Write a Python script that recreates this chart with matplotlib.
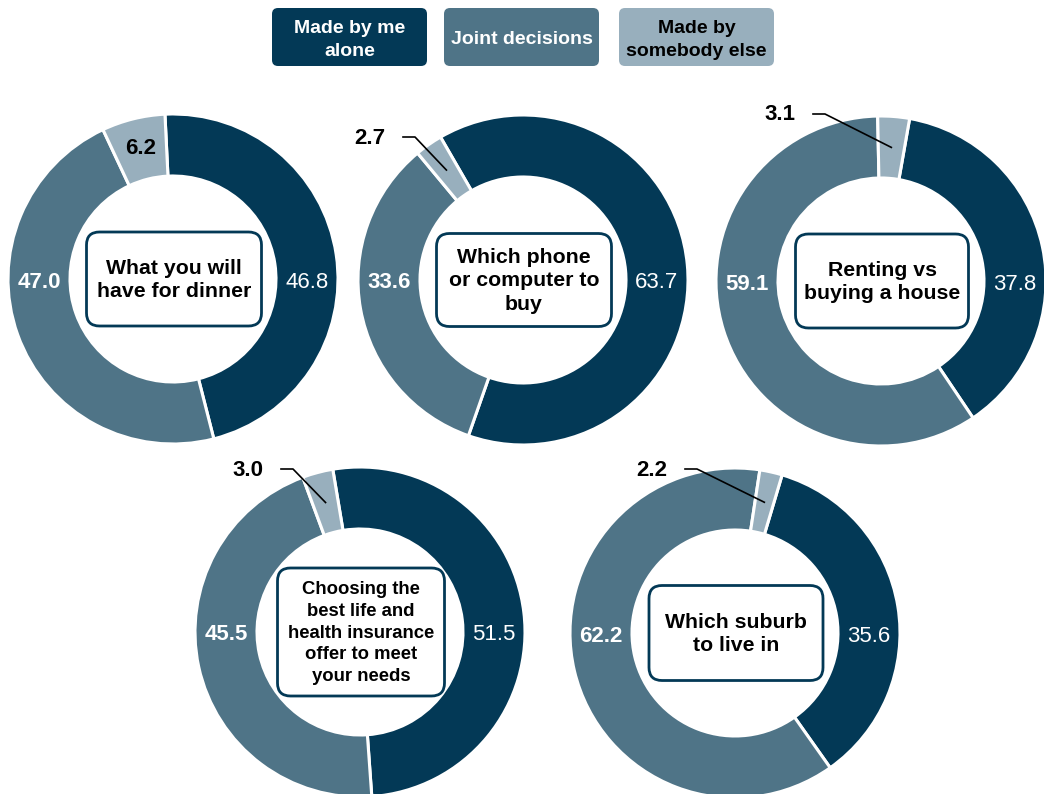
import numpy as np
import matplotlib.pyplot as plt
from matplotlib.patches import FancyBboxPatch

plt.rcParams['font.family'] = ['Liberation Sans', 'DejaVu Sans']

categories = ["Made by me\nalone", "Joint decisions", "Made by\nsomebody else"]
topics = ["What you will\nhave for dinner",
          "Which phone\nor computer to\nbuy",
          "Renting vs\nbuying a house",
          "Choosing the\nbest life and\nhealth insurance\noffer to meet\nyour needs",
          "Which suburb\nto live in"]
me_alone = [46.8, 63.7, 37.8, 51.5, 35.6]
joint = [47.0, 33.6, 59.1, 45.5, 62.2]
somebody_else = [6.2, 2.7, 3.1, 3.0, 2.2]

colors = ["#033956", "#4f7487", "#98afbd"]
text_colors = ["white", "white", "black"]

W, H = 1044, 794
fig = plt.figure(figsize=(W / 100, H / 100), dpi=100)
ax = fig.add_axes([0, 0, 1, 1])

# layout in pixels, measured from the top-left corner
centers = [(173, 279), (523, 280), (881, 281), (360, 632), (735, 633)]
start_angles = [92.8, 120, 80, 99.5, 73.4]
box_sizes = [(175, 94), (175, 93), (173, 94), (167, 128), (174, 95)]
topic_sizes = [15.3, 15.3, 15.3, 13.3, 15.3]
topic_spacing = [1.3, 1.3, 1.3, 1.38, 1.3]
# where the small slice label goes when it sits outside the ring
outside_label = [None, (-153, 142), (-101, 166), (-112, 162), (-83, 163)]

R, RING = 165, 62
MID = R - RING / 2

for i in range(5):
    cx, cy = centers[i][0], H - centers[i][1]
    vals = [me_alone[i], joint[i], somebody_else[i]]
    wedges, _ = ax.pie(vals, radius=R, center=(cx, cy), startangle=start_angles[i],
                       counterclock=False, colors=colors,
                       wedgeprops=dict(width=RING, edgecolor="white", linewidth=2.2))

    ax.text(cx + MID, cy - 3, f"{vals[0]:.1f}", color="white", fontsize=16,
            ha="center", va="center")
    ax.text(cx - MID, cy - 3, f"{vals[1]:.1f}", color="white", fontsize=16,
            fontweight="bold", ha="center", va="center")

    w = wedges[2]
    mid = np.deg2rad((w.theta1 + w.theta2) / 2)
    px, py = cx + MID * np.cos(mid), cy + MID * np.sin(mid)
    if outside_label[i] is None:
        ax.text(px, py, f"{vals[2]:.1f}", color="black", fontsize=16,
                fontweight="bold", ha="center", va="center")
    else:
        tx, ty = cx + outside_label[i][0], cy + outside_label[i][1]
        ax.text(tx, ty, f"{vals[2]:.1f}", color="black", fontsize=16,
                fontweight="bold", ha="center", va="center")
        ax.plot([tx + 33, tx + 45, px], [ty + 1, ty + 1, py], color="black", lw=1.2)

    bw, bh = box_sizes[i]
    ax.add_patch(FancyBboxPatch((cx + 1 - bw / 2, cy - bh / 2), bw, bh,
                                boxstyle="round,pad=0,rounding_size=13",
                                facecolor="white", edgecolor=colors[0], lw=2, zorder=3))
    ax.text(cx + 1, cy - 1, topics[i], fontsize=topic_sizes[i], fontweight="bold",
            ha="center", va="center", linespacing=topic_spacing[i], zorder=4)

# legend boxes along the top
legend_x = [272, 444, 619]
for x, lab, c, tc in zip(legend_x, categories, colors, text_colors):
    ax.add_patch(FancyBboxPatch((x, H - 66), 155, 58,
                                boxstyle="round,pad=0,rounding_size=6",
                                facecolor=c, edgecolor="none"))
    ax.text(x + 77.5, H - 40, lab, color=tc, fontsize=14, fontweight="bold",
            ha="center", va="center", linespacing=1.4)

ax.set_xlim(0, W)
ax.set_ylim(0, H)
ax.set_aspect("equal")
ax.axis("off")

fig.savefig("out.png", dpi=100, facecolor="white")
